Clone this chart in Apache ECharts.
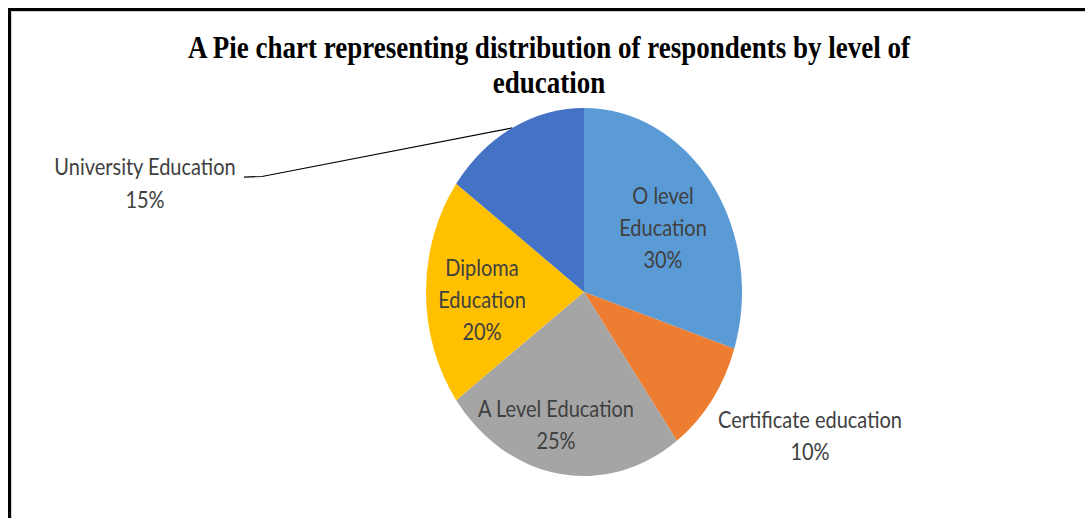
<!DOCTYPE html>
<html>
<head>
<meta charset="utf-8">
<script src="https://cdn.jsdelivr.net/npm/echarts@6/dist/echarts.min.js"></script>
<style>
  html, body { margin: 0; padding: 0; background: #fff; overflow: hidden; }
  #frame {
    position: absolute; left: 8px; top: 8px; width: 1077px; height: 510px;
    border-top: 3px solid #000; border-left: 3px solid #000;
    box-sizing: border-box;
    box-shadow: inset 1px 1px 0 #d0d0d0;
  }
  /* the drawing is made a little taller than it is wide */
  #chart {
    position: absolute; left: 0; top: 0; width: 1085px; height: 444.6px;
    transform: scaleY(1.165); transform-origin: 0 0;
  }
</style>
</head>
<body>
<div id="chart"></div>
<div id="frame"></div>
<script>
// Respondents by level of education (percent of respondents)
const categories = [
  'O level Education',
  'Certificate education',
  'A Level Education',
  'Diploma Education',
  'University Education'
];
const shares = [30, 10, 25, 20, 15];
const colors = ['#5B9BD5', '#ED7D31', '#A5A5A5', '#FFC000', '#4472C4'];

// where each label block is centred, and whether "Education" goes on its own line
const labelSpot = {
  'O level Education':     { x: 663, y: 195, wrap: true },
  'Certificate education': { x: 810, y: 374, wrap: false },
  'A Level Education':     { x: 556, y: 364, wrap: false },
  'Diploma Education':     { x: 482, y: 257, wrap: true },
  'University Education':  { x: 145, y: 157, wrap: false, lineTo: [[262, 151.5], [244, 152]] }
};
const insideNames = ['O level Education', 'A Level Education', 'Diploma Education'];

const chart = echarts.init(document.getElementById('chart'), null, { renderer: 'svg' });

chart.setOption({
  animation: false,
  title: {
    text: 'A Pie chart representing distribution of respondents by level of\neducation',
    left: 544,
    top: 21,
    textAlign: 'center',
    textStyle: {
      fontFamily: 'Liberation Serif',
      fontWeight: 'bold',
      fontSize: 27,
      lineHeight: 29.5,
      color: '#000'
    }
  },
  series: [{
    type: 'pie',
    center: [584, 250.6],
    radius: 158,
    startAngle: 90,
    clockwise: true,
    avoidLabelOverlap: false,
    itemStyle: { borderWidth: 0 },
    label: {
      show: true,
      position: 'outside',
      fontFamily: 'Lato',
      fontSize: 20,
      lineHeight: 27.5,
      color: '#404040',
      align: 'center',
      formatter: function (p) {
        const name = labelSpot[p.name].wrap ? p.name.replace(/ (?=Education)/, '\n') : p.name;
        return name + '\n' + p.value + '%';
      }
    },
    labelLine: { show: true, length: 10, length2: 10, lineStyle: { color: '#000', width: 1 } },
    labelLayout: function (params) {
      const name = categories[params.dataIndex];
      const s = labelSpot[name];
      const out = { x: s.x, y: s.y, align: 'center', verticalAlign: 'middle' };
      if (s.lineTo && params.labelLinePoints) {
        out.labelLinePoints = [params.labelLinePoints[0]].concat(s.lineTo);
      }
      return out;
    },
    data: categories.map(function (name, i) {
      const item = { name: name, value: shares[i], itemStyle: { color: colors[i] } };
      if (insideNames.indexOf(name) >= 0) {
        item.label = { position: 'inside' };
        item.labelLine = { show: false };
      } else if (name === 'Certificate education') {
        item.labelLine = { show: false };
      }
      return item;
    })
  }]
});
</script>
</body>
</html>
